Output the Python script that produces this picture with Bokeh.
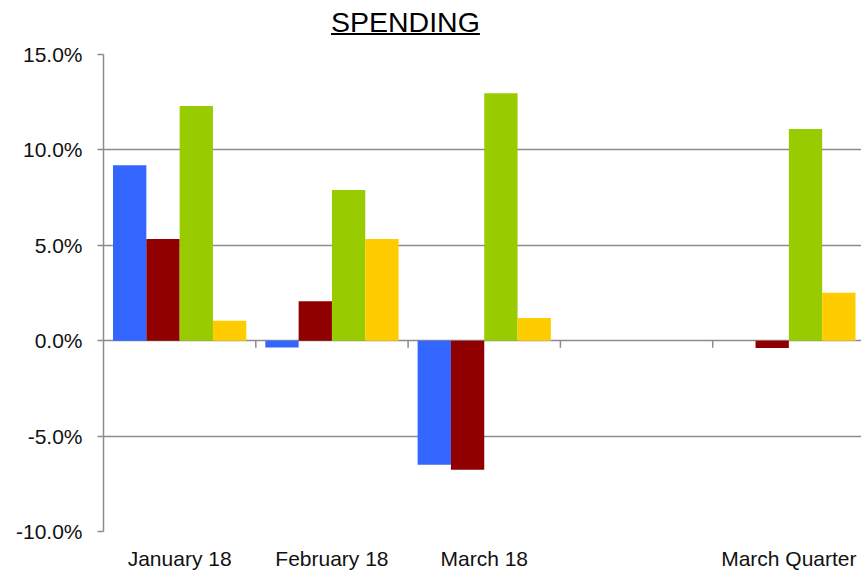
from bokeh.plotting import figure
from bokeh.models import ColumnDataSource, FixedTicker, Range1d, Div
from bokeh.layouts import column
from bokeh.embed import file_html
from bokeh.resources import INLINE

nan = float("nan")

# ---- data ----
categories = ["January 18", "February 18", "March 18", "", "March Quarter"]
series_blue = [9.2, -0.35, -6.5, nan, nan]
series_red = [5.33, 2.07, -6.77, nan, -0.38]
series_green = [12.3, 7.9, 12.97, nan, 11.09]
series_yellow = [1.05, 5.33, 1.19, nan, 2.51]
y_ticks = [-10, -5, 0, 5, 10, 15]
y_tick_labels = ["-10.0%", "-5.0%", "0.0%", "5.0%", "10.0%", "15.0%"]
title_text = "SPENDING"

colors = ["#3366FF", "#900000", "#99CC00", "#FFCC00"]
series = [series_blue, series_red, series_green, series_yellow]

FONT = "Liberation Sans"
GRID = "#8c8c8c"
TXT = "#111111"

n = len(categories)
bar_w = 0.21875
offsets = [-1.5 * bar_w, -0.5 * bar_w, 0.5 * bar_w, 1.5 * bar_w]

p = figure(width=861, height=532, output_backend="svg", toolbar_location=None,
           x_range=Range1d(0, 4.977), y_range=Range1d(-10, 15),
           min_border_left=103, min_border_right=0, min_border_top=14,
           min_border_bottom=40, outline_line_color=None, margin=0)

for vals, off, col in zip(series, offsets, colors):
    src = ColumnDataSource(dict(x=[i + 0.5 + off for i in range(n)], top=vals))
    p.vbar(x="x", top="top", bottom=0, width=bar_w, source=src,
           fill_color=col, line_color=None)

# category boundary ticks on the zero line
bx = [float(i) for i in range(1, n)]
p.segment(x0=bx, x1=bx, y0=[0] * len(bx), y1=[-0.37] * len(bx),
          line_color=GRID, line_width=1.5)

# y axis
p.yaxis.ticker = FixedTicker(ticks=y_ticks)
p.yaxis.major_label_overrides = {t: l for t, l in zip(y_ticks, y_tick_labels)}
p.yaxis.axis_line_color = GRID
p.yaxis.axis_line_width = 1.5
p.yaxis.major_tick_line_color = GRID
p.yaxis.major_tick_line_width = 1.5
p.yaxis.major_tick_out = 6
p.yaxis.major_tick_in = 0
p.yaxis.minor_tick_line_color = None
p.yaxis.major_label_standoff = 15
p.yaxis.major_label_text_font = FONT
p.yaxis.major_label_text_font_size = "21px"
p.yaxis.major_label_text_color = TXT

# x axis (labels only)
p.xaxis.ticker = FixedTicker(ticks=[i + 0.5 for i in range(n)])
p.xaxis.major_label_overrides = {i + 0.5: c for i, c in enumerate(categories)}
p.xaxis.axis_line_color = None
p.xaxis.major_tick_line_color = None
p.xaxis.minor_tick_line_color = None
p.xaxis.major_tick_out = 0
p.xaxis.major_label_standoff = 15
p.xaxis.major_label_text_font = FONT
p.xaxis.major_label_text_font_size = "21px"
p.xaxis.major_label_text_line_height = 1.0
p.xaxis.major_label_text_color = TXT

p.xgrid.grid_line_color = None
p.ygrid.ticker = FixedTicker(ticks=y_ticks)
p.ygrid.grid_line_color = GRID
p.ygrid.grid_line_width = 1.5
p.ygrid.level = "underlay"

title = Div(text=('<div style="margin-left:331px;margin-top:8px;font-family:\'Liberation Sans\';'
                  'font-size:28.5px;line-height:1;color:#000;white-space:nowrap;'
                  'text-decoration:underline;text-decoration-thickness:2px;'
                  'text-underline-offset:1px;">' + title_text + '</div>'),
            width=861, height=40, margin=0)

layout = column(title, p, spacing=0, margin=0)
open("out.html", "w").write(file_html(layout, INLINE))
